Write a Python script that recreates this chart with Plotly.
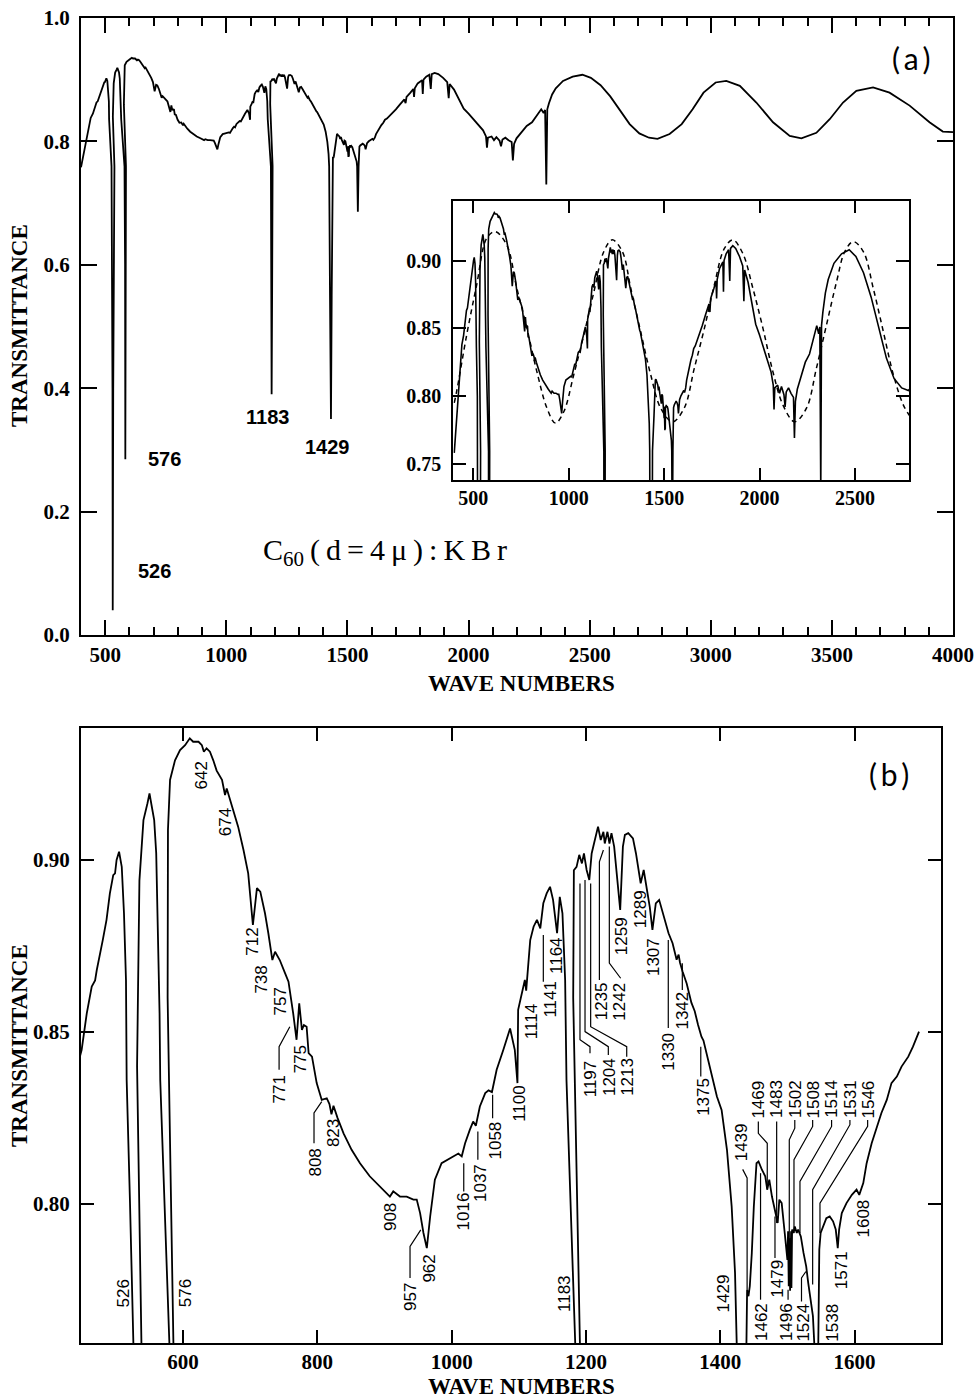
import plotly.graph_objects as go

# ---------------- data ----------------
# measured IR spectrum of C60 in KBr: (wave number [1/cm], transmittance)
spectrum_points = [
    (400, 0.758), (405, 0.768), (412, 0.785), (420, 0.803), (430, 0.822), (440, 0.838),
    (449, 0.8448), (456.6, 0.8554), (464, 0.8632), (469, 0.865), (471.5, 0.868), (479, 0.8748),
    (480.4, 0.8767), (486, 0.8826), (491, 0.8903), (496, 0.8956), (498.7, 0.8961), (501, 0.90),
    (504.7, 0.9024), (508.7, 0.898), (512, 0.8845), (515, 0.865), (516, 0.836), (521, 0.80),
    (526, 0.7595), (530, 0.40), (531, 0.04), (533, 0.40), (538, 0.7595), (531.5, 0.84),
    (535, 0.894), (541, 0.9116), (547, 0.9165), (550, 0.9194), (553, 0.916), (557, 0.9116),
    (560, 0.902), (562, 0.8845), (565, 0.8554), (566, 0.836), (579.6, 0.7595), (582, 0.60),
    (583, 0.285), (584, 0.60), (585.6, 0.7595), (577, 0.86), (577.5, 0.9087), (580.6, 0.9233),
    (588, 0.929), (595.5, 0.932), (603, 0.9334), (610, 0.9354), (615, 0.9344), (623, 0.9344),
    (628, 0.9334), (631, 0.9315), (635, 0.9325), (640, 0.9315), (645, 0.929), (650, 0.926),
    (658, 0.9233), (662.5, 0.9189), (665, 0.9208), (675, 0.9145), (682, 0.9097), (690, 0.9029),
    (697, 0.8961), (704, 0.8811), (710, 0.8918), (715, 0.8908), (722, 0.8845), (727, 0.8787),
    (733, 0.8709), (737, 0.8733), (744, 0.8709), (752, 0.867), (757, 0.8646), (764, 0.8554),
    (769, 0.8477), (773, 0.8583), (777, 0.8506), (780, 0.852), (784, 0.8515), (787, 0.8438),
    (792, 0.8428), (799, 0.8351), (806.5, 0.8302), (814, 0.8307), (818, 0.829), (821, 0.826),
    (824, 0.8285), (830, 0.825), (839, 0.8205), (851, 0.8157), (863.5, 0.8118), (878, 0.808),
    (893, 0.805), (908, 0.8021), (913, 0.8036), (923, 0.8021), (933, 0.8021), (943, 0.8012),
    (948, 0.8012), (953, 0.7973), (958, 0.7915), (963, 0.7871), (968, 0.7963), (975, 0.807),
    (985, 0.8118), (997.6, 0.8133), (1010, 0.8146), (1015, 0.8138), (1020, 0.8176), (1027, 0.8215),
    (1032, 0.8239), (1036, 0.8227), (1042, 0.8283), (1050, 0.8322), (1055, 0.833), (1060, 0.8325),
    (1064, 0.836), (1067, 0.839), (1077, 0.8448), (1087, 0.851), (1094, 0.8448), (1098, 0.8351),
    (1099, 0.8564), (1104, 0.8603), (1109, 0.8651), (1111, 0.862), (1117, 0.8767), (1122, 0.8806),
    (1127, 0.8826), (1132, 0.8801), (1136.5, 0.8874), (1141.5, 0.8903), (1146.5, 0.8922),
    (1151, 0.8884), (1157, 0.8787), (1161, 0.8893), (1165, 0.8845), (1169, 0.8651), (1171, 0.836),
    (1184, 0.7595), (1186, 0.55), (1187, 0.39), (1189, 0.55), (1191, 0.7595), (1181, 0.86),
    (1182, 0.897), (1186, 0.898), (1190, 0.9015), (1194, 0.899), (1197, 0.9019), (1201, 0.8971),
    (1205, 0.8942), (1208.5, 0.9019), (1212, 0.9048), (1216, 0.9087), (1218, 0.9097),
    (1222, 0.9058), (1226, 0.9082), (1228, 0.9048), (1232, 0.9082), (1235, 0.9048), (1238, 0.9078),
    (1242, 0.9039), (1246, 0.8961), (1251, 0.8855), (1255, 0.9039), (1258, 0.9073), (1263, 0.9078),
    (1270, 0.9063), (1274.5, 0.9019), (1278, 0.898), (1281.5, 0.8932), (1286, 0.8971),
    (1290, 0.8922), (1295, 0.8864), (1299, 0.8797), (1304, 0.8874), (1309, 0.8884), (1315, 0.8845),
    (1323, 0.8787), (1329, 0.8758), (1335, 0.871), (1338, 0.8725), (1340, 0.8702), (1344, 0.8675),
    (1350, 0.8641), (1357, 0.8585), (1362, 0.856), (1367, 0.852), (1372, 0.8486), (1375, 0.8475),
    (1380, 0.8435), (1387, 0.837), (1395, 0.8312), (1402, 0.8273), (1410, 0.8157), (1417, 0.7992),
    (1422, 0.7799), (1424.5, 0.7595), (1428, 0.55), (1432, 0.35), (1435, 0.55), (1439, 0.7595),
    (1440, 0.775), (1442, 0.7731), (1444, 0.776), (1447, 0.7857), (1450, 0.7992), (1454, 0.8118),
    (1457, 0.8123), (1462, 0.8099), (1467, 0.808), (1470, 0.8041), (1473, 0.807), (1477, 0.8021),
    (1482, 0.7973), (1485.5, 0.7944), (1488, 0.8012), (1491.5, 0.8002), (1496, 0.7915),
    (1500, 0.7837), (1501, 0.792), (1502, 0.776), (1503, 0.790), (1504, 0.7747), (1505.5, 0.792),
    (1506, 0.7755), (1507, 0.7925), (1509, 0.7915), (1511, 0.7934), (1514, 0.7915), (1516, 0.7925),
    (1520, 0.7905), (1524, 0.7857), (1528, 0.7818), (1531, 0.777), (1535, 0.7721), (1538, 0.7673),
    (1540, 0.7595), (1543, 0.686), (1546, 0.7595), (1547.5, 0.7867), (1549.5, 0.7915),
    (1553, 0.7934), (1558, 0.7958), (1563, 0.7963), (1568, 0.7949), (1572, 0.7925), (1575, 0.7871),
    (1577, 0.7925), (1581, 0.7973), (1588, 0.8002), (1596, 0.8026), (1603, 0.8041), (1607, 0.8026),
    (1613, 0.806), (1618, 0.8118), (1625.5, 0.8176), (1633, 0.8225), (1640, 0.8264), (1648, 0.8302),
    (1655, 0.8351), (1663, 0.837), (1670, 0.8399), (1680, 0.8428), (1687, 0.8457), (1696, 0.8501),
    (1700, 0.852), (1717, 0.860), (1735, 0.868), (1740, 0.862), (1744, 0.872), (1760, 0.879),
    (1772, 0.885), (1775, 0.872), (1778, 0.886), (1790, 0.894), (1800, 0.897), (1808, 0.899),
    (1811, 0.877), (1814, 0.900), (1825, 0.905), (1838, 0.908), (1844, 0.885), (1848, 0.909),
    (1860, 0.911), (1875, 0.909), (1895, 0.903), (1912, 0.896), (1918, 0.870), (1922, 0.893),
    (1940, 0.884), (1960, 0.868), (1980, 0.853), (2000, 0.845), (2030, 0.831), (2060, 0.818),
    (2072, 0.808), (2076, 0.790), (2080, 0.806), (2095, 0.808), (2105, 0.802), (2115, 0.807),
    (2128, 0.801), (2134, 0.792), (2140, 0.803), (2152, 0.806), (2165, 0.802), (2178, 0.799),
    (2183, 0.769), (2188, 0.796), (2198, 0.805), (2220, 0.815), (2240, 0.825), (2262, 0.831),
    (2280, 0.842), (2300, 0.852), (2310, 0.846), (2316, 0.851), (2321, 0.73), (2325, 0.852),
    (2332, 0.862), (2345, 0.876), (2360, 0.886), (2390, 0.898), (2430, 0.905), (2470, 0.908),
    (2505, 0.903), (2545, 0.891), (2585, 0.873), (2625, 0.850), (2665, 0.828), (2705, 0.813),
    (2745, 0.806), (2780, 0.804), (2830, 0.812), (2880, 0.828), (2925, 0.852), (2970, 0.879),
    (3020, 0.8955), (3064, 0.898), (3120, 0.890), (3188, 0.863), (3257, 0.831), (3326, 0.809),
    (3374, 0.805), (3436, 0.814), (3491, 0.836), (3546, 0.863), (3601, 0.882), (3670, 0.8875),
    (3738, 0.879), (3821, 0.858), (3903, 0.831), (3958, 0.816), (4000, 0.815),
]
spec_wn = [p[0] for p in spectrum_points]
spec_T = [p[1] for p in spectrum_points]

# dashed fringe fit shown in the inset
fit_wn = [400, 412, 465, 517.5, 570, 614, 675, 728, 781, 833, 886, 930, 974, 1026, 1079, 1132,
          1184, 1228, 1281, 1325, 1377, 1430, 1482, 1544, 1605, 1658, 1711, 1763, 1816, 1860,
          1912, 1965, 2018, 2070, 2123, 2184, 2246, 2298, 2351, 2404, 2447, 2491, 2544, 2596,
          2649, 2702, 2754, 2789]
fit_T = [0.795, 0.803, 0.845, 0.882, 0.9165, 0.9214, 0.9116, 0.8796, 0.85, 0.818, 0.791, 0.78,
         0.7884, 0.8155, 0.845, 0.877, 0.9067, 0.9153, 0.9067, 0.8796, 0.8475, 0.8155, 0.791,
         0.781, 0.791, 0.8204, 0.85, 0.882, 0.909, 0.9153, 0.9054, 0.8796, 0.85, 0.818, 0.7933,
         0.781, 0.791, 0.8204, 0.8525, 0.8845, 0.9067, 0.914, 0.9067, 0.8796, 0.8475, 0.8155,
         0.7933, 0.785]

panel_b_last_wn = 1696

# band labels of panel (a)
a_label_text = ["526", "576", "1183", "1429"]
a_label_wn = [702, 743, 1168, 1418]
a_label_T = [0.103, 0.285, 0.354, 0.305]

# band labels of panel (b): text, wave-number position, transmittance position
b_labels = [
    ("526", 511, 0.774), ("576", 603, 0.774), ("642", 627.8, 0.9245), ("674", 662.5, 0.911),
    ("712", 703, 0.8763), ("738", 717, 0.8651), ("757", 745.5, 0.8588), ("771", 743, 0.8333),
    ("775", 774, 0.842), ("808", 798, 0.812), ("823", 823, 0.8205), ("908", 908, 0.7961),
    ("957", 939, 0.7728), ("962", 967, 0.781), ("1016", 1017, 0.7978), ("1037", 1042, 0.806),
    ("1058", 1066, 0.8184), ("1100", 1100, 0.8293), ("1114", 1119, 0.853), ("1141", 1147.5, 0.8596),
    ("1164", 1157, 0.8721), ("1183", 1169, 0.7738), ("1197", 1206, 0.8365), ("1204", 1235, 0.837),
    ("1213", 1262, 0.8368), ("1235", 1223.4, 0.8588), ("1242", 1250.7, 0.8588),
    ("1259", 1253, 0.8777), ("1289", 1280.5, 0.8857), ("1307", 1301, 0.8717),
    ("1330", 1322.6, 0.8443), ("1342", 1344, 0.8561), ("1375", 1374.8, 0.8312),
    ("1429", 1404.5, 0.774), ("1439", 1432, 0.8178), ("1462", 1461.6, 0.7655),
    ("1469", 1456.7, 0.8304), ("1479", 1484, 0.7781), ("1483", 1484, 0.8304),
    ("1496", 1499, 0.7655), ("1502", 1511, 0.8304), ("1508", 1538.5, 0.8304),
    ("1514", 1565.8, 0.8304), ("1524", 1523.6, 0.7655), ("1531", 1593, 0.8304),
    ("1538", 1565.8, 0.7653), ("1546", 1620.4, 0.8304), ("1571", 1580.8, 0.7806),
    ("1608", 1613, 0.7958),
]

# leader lines from labels to bands in panel (b): polylines of (wave number, transmittance)
b_leaders = [
    [(743, 0.839), (743, 0.8457), (759, 0.8515)],
    [(795, 0.8176), (795, 0.8264), (806.5, 0.8297)],
    [(938, 0.7784), (938, 0.7876), (954, 0.7924)],
    [(1018, 0.8036), (1018, 0.8118)],
    [(1039, 0.8128), (1039, 0.821)],
    [(1061, 0.8249), (1061, 0.8317)],
    [(1136.5, 0.8646), (1136.5, 0.8782)],
    [(1191.1, 0.8932), (1191.1, 0.8477), (1206, 0.8457), (1206, 0.8438)],
    [(1198.6, 0.8942), (1198.6, 0.8501), (1233.3, 0.8457), (1233.3, 0.8433)],
    [(1207, 0.8932), (1207, 0.8515), (1260.7, 0.8457), (1260.7, 0.8428)],
    [(1220, 0.8651), (1220, 0.8995), (1226, 0.9029)],
    [(1234.8, 0.9039), (1234.8, 0.87), (1251.7, 0.8656)],
    [(1322.6, 0.8511), (1322.6, 0.8767)],
    [(1343.5, 0.8622), (1343.5, 0.870)],
    [(1371, 0.837), (1371, 0.8457)],
    [(1433.4, 0.81), (1440, 0.8075), (1440, 0.775)],
    [(1460, 0.7721), (1460, 0.8089)],
    [(1456.7, 0.8239), (1456.7, 0.8205), (1470, 0.8176), (1470, 0.8041)],
    [(1481.5, 0.7842), (1481.5, 0.7963)],
    [(1484, 0.8239), (1484, 0.7944)],
    [(1501, 0.7721), (1501, 0.775)],
    [(1511, 0.8244), (1511, 0.822), (1502.8, 0.8186), (1502.8, 0.7769)],
    [(1537.6, 0.8244), (1537.6, 0.8225), (1509.8, 0.8128), (1509.8, 0.7915)],
    [(1565.8, 0.8244), (1565.8, 0.8225), (1518.7, 0.8065), (1518.7, 0.7915)],
    [(1521, 0.7716), (1521, 0.7784), (1527.6, 0.7803)],
    [(1593.1, 0.8244), (1593.1, 0.823), (1537.6, 0.8041), (1537.6, 0.7765)],
    [(1619.5, 0.8244), (1619.5, 0.8225), (1548.5, 0.8002), (1548.5, 0.7915)],
]

# axis ticks
a_xticks = [500, 1000, 1500, 2000, 2500, 3000, 3500, 4000]
a_yticks = [0.0, 0.2, 0.4, 0.6, 0.8, 1.0]
inset_xticks = [500, 1000, 1500, 2000, 2500]
inset_yticks = [0.75, 0.80, 0.85, 0.90]
b_xticks = [600, 800, 1000, 1200, 1400, 1600]
b_yticks = [0.80, 0.85, 0.90]

# ---------------- figure ----------------
W, H = 980, 1400


def fx(px):
    return px / W


def fy(py):
    return 1 - py / H


def dom_x(p0, p1):
    return [fx(p0), fx(p1)]


def dom_y(top, bottom):
    return [fy(bottom), fy(top)]


SERIF = "Liberation Serif, Times New Roman, serif"
SANS = "Liberation Sans, Arial, sans-serif"
BLK = "black"

fig = go.Figure()

fig.add_trace(go.Scatter(x=spec_wn, y=spec_T, xaxis="x", yaxis="y", mode="lines",
                         line=dict(color=BLK, width=1.8), showlegend=False, hoverinfo="skip"))
fig.add_trace(go.Scatter(x=spec_wn, y=spec_T, xaxis="x2", yaxis="y2", mode="lines",
                         line=dict(color=BLK, width=1.6), showlegend=False, hoverinfo="skip"))
fig.add_trace(go.Scatter(x=fit_wn, y=fit_T, xaxis="x2", yaxis="y2", mode="lines",
                         line=dict(color=BLK, width=1.5, dash="5px,4px", shape="spline"),
                         showlegend=False, hoverinfo="skip"))

b_wn = [w for w in spec_wn if w <= panel_b_last_wn]
b_T = [t for w, t in zip(spec_wn, spec_T) if w <= panel_b_last_wn]
fig.add_trace(go.Scatter(x=b_wn, y=b_T, xaxis="x3", yaxis="y3", mode="lines",
                         line=dict(color=BLK, width=1.8), showlegend=False, hoverinfo="skip"))

lx, ly = [], []
for poly in b_leaders:
    for w, t in poly:
        lx.append(w)
        ly.append(t)
    lx.append(None)
    ly.append(None)
fig.add_trace(go.Scatter(x=lx, y=ly, xaxis="x3", yaxis="y3", mode="lines",
                         line=dict(color=BLK, width=1.2), showlegend=False, hoverinfo="skip"))


def axis(**kw):
    base = dict(showline=True, linecolor=BLK, linewidth=2, mirror="ticks", ticks="inside",
                tickcolor=BLK, tickwidth=2, showgrid=False, zeroline=False,
                automargin=False, ticklabeloverflow="allow",
                tickfont=dict(family=SERIF, size=21, color=BLK, weight="bold"))
    base.update(kw)
    return base


fig.update_layout(
    template="none",
    width=W, height=H, margin=dict(l=0, r=0, t=0, b=0, pad=0), autosize=False,
    paper_bgcolor="white", plot_bgcolor="white", showlegend=False,
    xaxis=axis(domain=dom_x(81, 953), range=[400, 4000], anchor="y", tickvals=a_xticks,
               ticklen=15, ticklabelstandoff=0,
               minor=dict(dtick=100, tick0=0, ticklen=8, ticks="inside", tickwidth=2,
                          tickcolor=BLK)),
    yaxis=axis(domain=dom_y(18, 635), range=[0, 1.0], anchor="x", tickvals=a_yticks,
               tickformat=".1f", ticklen=16, ticklabelstandoff=5),
    xaxis2=axis(domain=dom_x(453.3, 909.3), range=[395, 2785], anchor="y2",
                tickvals=inset_xticks, ticklen=12, ticklabelstandoff=-1,
                tickfont=dict(family=SERIF, size=20, color=BLK, weight="bold")),
    yaxis2=axis(domain=dom_y(201, 480), range=[0.738, 0.944], anchor="x2",
                tickvals=inset_yticks, tickformat=".2f", ticklen=13, ticklabelstandoff=6,
                tickfont=dict(family=SERIF, size=20, color=BLK, weight="bold")),
    xaxis3=axis(domain=dom_x(81, 940.5), range=[448, 1728], anchor="y3", tickvals=b_xticks,
                ticklen=13, ticklabelstandoff=-1),
    yaxis3=axis(domain=dom_y(728, 1343), range=[0.7595, 0.9384], anchor="x3",
                tickvals=b_yticks, tickformat=".2f", ticklen=13, ticklabelstandoff=5),
)

ann = []
# axis titles (window pixel positions)
for (xp, yp, txt, ang) in [(19, 326, "TRANSMITTANCE", -90), (19, 1046, "TRANSMITTANCE", -90),
                           (521, 683, "WAVE NUMBERS", 0), (521, 1386, "WAVE NUMBERS", 0)]:
    ann.append(dict(x=fx(xp), y=fy(yp), xref="paper", yref="paper", text=txt,
                    textangle=ang, showarrow=False, xanchor="center", yanchor="middle",
                    font=dict(family=SERIF, size=23, color=BLK, weight="bold")))

# panel (a) band labels
for txt, w, t in zip(a_label_text, a_label_wn, a_label_T):
    ann.append(dict(x=w, y=t, xref="x", yref="y", text=txt, showarrow=False,
                    xanchor="center", yanchor="middle",
                    font=dict(family=SANS, size=20, color=BLK, weight="bold")))

ann.append(dict(x=1655, y=0.135, xref="x", yref="y",
                text="C<sub>60</sub>\u2009(\u2009d\u2009=\u20094\u2009\u03bc\u2009)\u2009:\u2009K\u2009B\u2009r",
                showarrow=False, xanchor="center", yanchor="middle",
                font=dict(family=SERIF, size=30, color=BLK)))
ann.append(dict(x=3825, y=0.935, xref="x", yref="y", text="(\u2009a\u2009)", showarrow=False,
                xanchor="center", yanchor="middle", font=dict(family="Lato, sans-serif", size=30, color=BLK)))
ann.append(dict(x=1651, y=0.925, xref="x3", yref="y3", text="(\u2009b\u2009)", showarrow=False,
                xanchor="center", yanchor="middle", font=dict(family="Lato, sans-serif", size=30, color=BLK)))

# panel (b) band labels (rotated)
for txt, w, t in b_labels:
    ann.append(dict(x=w, y=t, xref="x3", yref="y3", text=txt, textangle=-90, showarrow=False,
                    xanchor="center", yanchor="middle",
                    font=dict(family=SANS, size=17, color=BLK)))

fig.update_layout(annotations=ann)
# remove the default 8 px page margin so the 980x1400 figure fills the window exactly
fig.write_html("out.html", config={"displayModeBar": False}, post_script=(
    "document.documentElement.style.margin='0px';"
    "document.body.style.margin='0px';"
    "document.documentElement.style.overflow='hidden';"
    "document.body.style.overflow='hidden';"))
